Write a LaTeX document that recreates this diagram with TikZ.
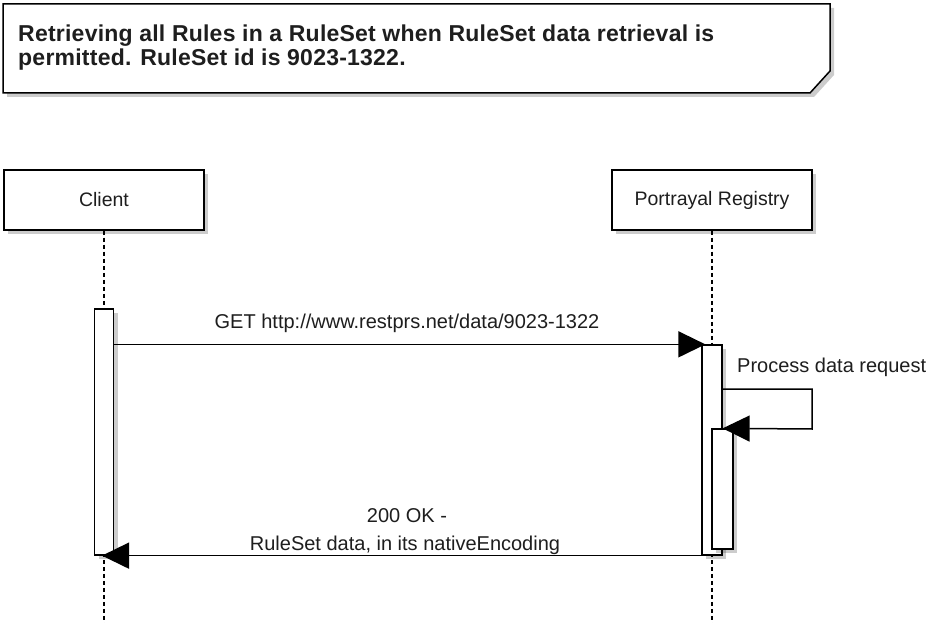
\documentclass[tikz,border=0pt]{standalone}
\usepackage{fontspec}
\setmainfont{Liberation Sans}
\newfontfamily\notefont[LetterSpace=1]{Liberation Sans}
\newfontfamily\lblfont{Liberation Sans}
\usetikzlibrary{arrows.meta,shadows}
\definecolor{txt}{HTML}{1E1E1E}
\begin{document}
\begin{tikzpicture}[x=1pt,y=-1pt,
  shad/.style={drop shadow={shadow xshift=4pt,shadow yshift=-4pt,fill=black,opacity=0.2}},
  actor/.style={draw=black,line width=1.5pt,fill=white,minimum width=200pt,minimum height=60pt,inner sep=0pt,shad,
    font=\lblfont\fontsize{19.5}{22}\selectfont,text=txt},
  act/.style={draw=black,line width=1.3pt,fill=white,inner sep=0pt,shad},
  lifeline/.style={draw=black,line width=1.2pt,dash pattern=on 4pt off 3pt},
  msg/.style={draw=black,line width=1.5pt,-{Triangle[length=27pt,width=26pt]}},
  lbl/.style={font=\lblfont\fontsize{20}{24}\selectfont,text=txt,inner sep=0pt},
  notelbl/.style={font=\notefont\bfseries\fontsize{23}{24}\selectfont,text=txt,inner sep=0pt,anchor=base west}]
\useasboundingbox[fill=white] (0,0) rectangle (930,623);
% note
\draw[line width=1.5pt,fill=white,shad] (3,4) -- (830,4) -- (830,71) -- (810,93) -- (3,93) -- cycle;
\node[notelbl] (note1) at (18,42) {Retrieving all Rules in a RuleSet when RuleSet data retrieval is};
\node[notelbl] (note2) at (18,66) {permitted. RuleSet id is 9023-1322.};
% actors
\node[actor] (client) at (104,200) {Client};
\node[actor] (reg) at (712,200) {Portrayal Registry};
\coordinate (cend) at (104,623);
\coordinate (rend) at (712,623);
\draw[lifeline] (client.south) -- (cend);
\draw[lifeline] (reg.south) -- (rend);
% activations
\node[act,minimum width=19pt,minimum height=246pt] (actC) at (104,432) {};
\node[act,minimum width=20pt,minimum height=210pt] (actR) at (712,450) {};
\node[act,minimum width=21pt,minimum height=120pt] (actR2) at (722.5,489) {};
% request
\draw[msg] (actC.east |- actR.north west) -- ([xshift=4pt]actR.north west);
\node[lbl,anchor=base] (getlbl) at (407,328) {GET http://www.restprs.net/data/9023-1322};
% self call
\coordinate (s1) at (812,389);
\coordinate (s2) at (812,429);
\draw[msg] (actR.east |- s1) -- (s1) -- (s2) -- (actR.east |- actR2.north);
\node[lbl,anchor=base west] (proclbl) at (737,372) {Process data request};
% return
\draw[msg] (actR.south west) -- ([xshift=-2pt]client.center |- actR.south west);
\node[lbl,anchor=base] (ok1) at (407,522) {200 OK -};
\node[lbl,anchor=base] (ok2) at (405,550) {RuleSet data, in its nativeEncoding};
\end{tikzpicture}
\end{document}
